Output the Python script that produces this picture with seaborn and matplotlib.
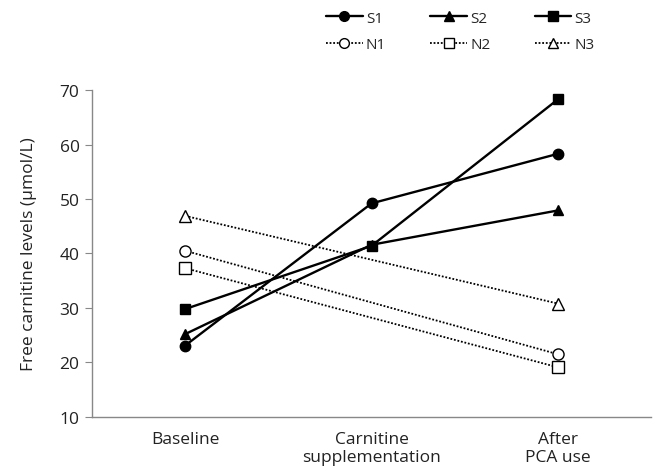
import numpy as np
import pandas as pd
import matplotlib
matplotlib.use("Agg")
import matplotlib.pyplot as plt
import seaborn as sns
from matplotlib.lines import Line2D

# %% Data
stages = ["Baseline", "Carnitine\nsupplementation", "After\nPCA use"]

s1 = [23.1, 49.2, 58.3]
s2 = [25.2, 41.6, 47.9]
s3 = [29.8, 41.4, 68.3]
# N-groups were measured only at baseline and after PCA use
n1 = [40.5, np.nan, 21.5]
n2 = [37.3, np.nan, 19.1]
n3 = [46.9, np.nan, 30.8]

series_names = ["S1", "S2", "S3", "N1", "N2", "N3"]
series_values = [s1, s2, s3, n1, n2, n3]

# Build a long table for seaborn
rows = []
for name, vals in zip(series_names, series_values):
    for i, v in enumerate(vals):
        if not np.isnan(v):
            rows.append({"series": name, "pos": i, "value": v})
df = pd.DataFrame(rows)

# %% Styling per series
marker_map = {"S1": "o", "S2": "^", "S3": "s", "N1": "o", "N2": "s", "N3": "^"}

sns.set_style("white")
plt.rcParams["font.family"] = ["Open Sans", "DejaVu Sans"]

fig = plt.figure(figsize=(6.53, 4.77), dpi=100)
ax = fig.add_axes([0.141, 0.124, 0.856, 0.685])

for name in series_names:
    sub = df[df["series"] == name]
    solid = name.startswith("S")
    sns.lineplot(x="pos", y="value", data=sub, ax=ax, color="black",
                 marker=marker_map[name], markersize=7.5 if solid else 8,
                 markerfacecolor="black" if solid else "white",
                 markeredgecolor="black", markeredgewidth=1.0,
                 linestyle="-" if solid else (0, (1, 1)),
                 linewidth=1.7 if solid else 1.3, legend=False)

ax.set_xlim(-0.5, 2.5)
ax.set_ylim(10, 70)
ax.set_yticks(range(10, 71, 10))
ax.set_xticks(range(len(stages)))
ax.set_xticklabels(stages, fontsize=12.5, color="#222222")
ax.tick_params(axis="y", labelsize=12.5, colors="#222222", left=True,
               length=5, width=0.8, color="#888888", pad=4)
ax.tick_params(axis="x", length=0, pad=10)

ax.set_xlabel("")
ax.set_ylabel("Free carnitine levels (\u00b5mol/L)", fontsize=12.5, color="#222222",
              labelpad=16)

sns.despine(ax=ax, top=True, right=True)
for side in ["left", "bottom"]:
    ax.spines[side].set_color("#888888")
    ax.spines[side].set_linewidth(1.0)

# Legend on top, filled column-wise so rows read S1 S2 S3 / N1 N2 N3
order = ["S1", "N1", "S2", "N2", "S3", "N3"]
handles = []
for name in order:
    solid = name.startswith("S")
    handles.append(Line2D([0], [0], color="black",
                          linestyle="-" if solid else (0, (1, 1)),
                          linewidth=1.7 if solid else 1.3,
                          marker=marker_map[name], markersize=7,
                          markerfacecolor="black" if solid else "white",
                          markeredgecolor="black"))
fig.legend(handles, order, loc="center", bbox_to_anchor=(0.705, 0.932),
           ncol=3, frameon=False, fontsize=11, handlelength=2.4,
           columnspacing=2.9, handletextpad=0.2, labelspacing=0.75)

plt.savefig("out.png", dpi=100)
